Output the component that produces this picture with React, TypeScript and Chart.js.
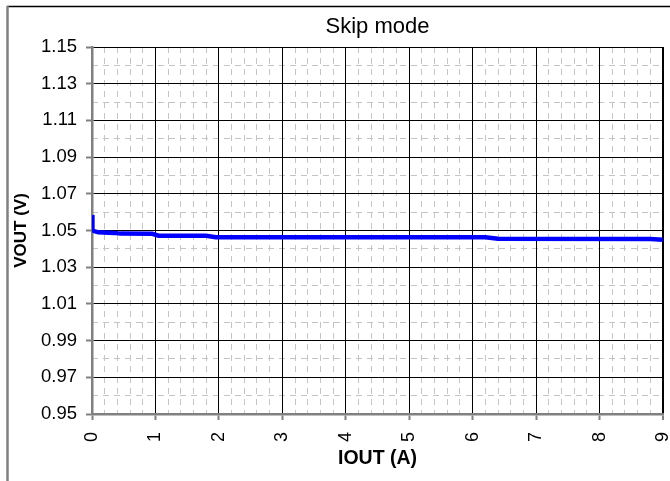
import React, { useEffect, useLayoutEffect, useRef } from 'react';
import { Chart, registerables } from 'chart.js';

Chart.register(...registerables);

const TITLE = 'Skip mode';
const X_TITLE = 'IOUT (A)';
const Y_TITLE = 'VOUT (V)';

// IOUT (A) and measured VOUT (V)
const IOUT = [0, 0.003, 0.01, 0.03, 0.1, 0.35, 0.45, 0.95, 1.05, 1.8, 1.95, 6.2, 6.4, 8.8, 9.0];
const VOUT = [1.0585, 1.054, 1.0505, 1.0497, 1.049, 1.0487, 1.0483, 1.0482, 1.0472, 1.0471, 1.0463, 1.0463, 1.0455, 1.0454, 1.0449];

const X_MIN = 0;
const X_MAX = 9;
const X_MAJOR = 1;
const X_MINOR = 0.2;
const Y_MIN = 0.95;
const Y_MAX = 1.15;
const Y_MAJOR = 0.02;
const Y_MINOR = 0.01;

const FONT = "'Liberation Sans', Arial, sans-serif";
const AXIS_GRAY = '#808080';
const MINOR_GRAY = '#c4c4c4';

const titlePlugin = {
  id: 'centeredTitle',
  afterDraw(chart: any) {
    const ctx = chart.ctx;
    const a = chart.chartArea;
    ctx.save();
    // outer chart frame (top and left edges visible)
    ctx.setLineDash([]);
    ctx.strokeStyle = '#000000';
    ctx.lineWidth = 1.5;
    ctx.beginPath();
    ctx.moveTo(7, 6.5);
    ctx.lineTo(chart.width, 6.5);
    ctx.stroke();
    ctx.strokeStyle = AXIS_GRAY;
    ctx.lineWidth = 2.5;
    ctx.beginPath();
    ctx.moveTo(7.5, 6);
    ctx.lineTo(7.5, chart.height);
    ctx.stroke();
    // title
    ctx.fillStyle = '#000000';
    ctx.font = `22px ${FONT}`;
    ctx.textAlign = 'center';
    ctx.textBaseline = 'middle';
    ctx.fillText(TITLE, (a.left + a.right) / 2, 27);
    ctx.restore();
  },
};

export default function App() {
  const ref = useRef<HTMLCanvasElement>(null);

  useLayoutEffect(() => {
    const prev = document.body.style.margin;
    document.body.style.margin = '0';
    return () => {
      document.body.style.margin = prev;
    };
  }, []);

  useEffect(() => {
    if (!ref.current) return;
    const points = IOUT.map((x, i) => ({ x, y: VOUT[i] }));
    const chart = new Chart(ref.current, {
      type: 'line',
      data: {
        datasets: [
          {
            data: points,
            borderColor: '#0000FF',
            backgroundColor: '#0000FF',
            borderWidth: 4.5,
            pointRadius: 0,
            tension: 0,
            fill: false,
          },
        ],
      },
      options: {
        animation: false,
        responsive: false,
        devicePixelRatio: 1,
        layout: { padding: { left: 0, top: 47, right: 7, bottom: 0 } },
        plugins: {
          legend: { display: false },
          tooltip: { enabled: false },
          title: { display: false },
        },
        scales: {
          x2: {
            type: 'linear',
            position: 'bottom',
            min: X_MIN,
            max: X_MAX,
            ticks: { display: false, stepSize: X_MINOR },
            grid: { color: MINOR_GRAY, lineWidth: 1, drawTicks: false, z: -2 },
            border: { display: false, dash: [6, 5] },
            afterFit(s: any) { s.height = 0; s.paddingLeft = 0; s.paddingRight = 0; },
          },
          y2: {
            type: 'linear',
            position: 'left',
            min: Y_MIN,
            max: Y_MAX,
            ticks: { display: false, stepSize: Y_MINOR },
            grid: { color: MINOR_GRAY, lineWidth: 1, drawTicks: false, z: -2 },
            border: { display: false, dash: [6, 5] },
            afterFit(s: any) { s.width = 0; s.paddingTop = 0; s.paddingBottom = 0; },
          },
          x: {
            type: 'linear',
            position: 'bottom',
            min: X_MIN,
            max: X_MAX,
            ticks: {
              stepSize: X_MAJOR,
              autoSkip: false,
              minRotation: 90,
              maxRotation: 90,
              padding: 12,
              color: '#000000',
              font: { family: FONT, size: 18 },
              callback: (v: any) => String(Math.round(Number(v))),
            },
            grid: {
              color: '#000000',
              lineWidth: (c: any) => (c.tick && Math.abs(c.tick.value - X_MAX) < 1e-9 ? 2 : 1),
              tickColor: AXIS_GRAY,
              tickLength: 6,
              tickWidth: 2,
            },
            border: { color: AXIS_GRAY, width: 2.5 },
            title: {
              display: true,
              text: X_TITLE,
              color: '#000000',
              font: { family: FONT, size: 19.5, weight: 'bold' },
              padding: { top: 0, bottom: 11 },
            },
            afterFit(s: any) { s.height = 67; s.paddingLeft = 0; s.paddingRight = 0; },
          },
          y: {
            type: 'linear',
            position: 'left',
            min: Y_MIN,
            max: Y_MAX,
            ticks: {
              stepSize: Y_MAJOR,
              autoSkip: false,
              padding: 9,
              color: '#000000',
              font: { family: FONT, size: 18.5 },
              callback: (v: any) => Number(v).toFixed(2),
            },
            grid: {
              color: '#000000',
              lineWidth: 1,
              tickColor: AXIS_GRAY,
              tickLength: 6,
              tickWidth: 2,
            },
            border: { color: AXIS_GRAY, width: 2.5 },
            title: {
              display: true,
              text: Y_TITLE,
              color: '#000000',
              font: { family: FONT, size: 17, weight: 'bold' },
              padding: { top: 11, bottom: 0 },
            },
            afterFit(s: any) { s.width = 92; s.paddingTop = 0; s.paddingBottom = 0; },
          },
        },
      } as any,
      plugins: [titlePlugin],
    });
    return () => chart.destroy();
  }, []);

  return (
    <div style={{ width: 670, height: 481, position: 'relative', background: '#ffffff' }}>
      <style>{'html,body{margin:0;padding:0;}'}</style>
      <canvas ref={ref} width={670} height={481} style={{ display: 'block', width: 670, height: 481 }} />
    </div>
  );
}
